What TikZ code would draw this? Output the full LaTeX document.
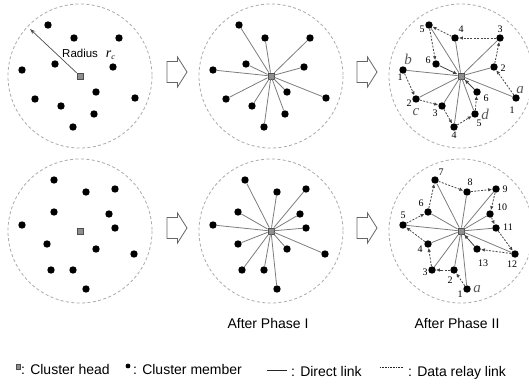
\documentclass[tikz,border=0pt]{standalone}
\usepackage{fontspec}
\setmainfont{Liberation Sans}
\newfontfamily\tnr{Liberation Serif}
\usetikzlibrary{arrows.meta}
\definecolor{rimgray}{HTML}{ABABAB}
\definecolor{spoke}{HTML}{7C7C7C}
\definecolor{relay}{HTML}{454545}
\definecolor{headfill}{HTML}{8E8E8E}
\definecolor{headdraw}{HTML}{4E4E4E}
\tikzset{every node/.style={font=\fontsize{14}{16}\selectfont},
 head/.style={rectangle,draw=headdraw,fill=headfill,line width=.6pt,inner sep=0pt,minimum size=6.2pt},
 member/.style={circle,fill=black,inner sep=0pt,minimum size=7.4pt},
 rim/.style={draw=rimgray,dash pattern=on 3pt off 2.4pt,line width=.8pt},
 direct/.style={draw=spoke,line width=.8pt},
 relaylink/.style={-{Latex[length=4pt,width=3.6pt]},draw=relay,dash pattern=on 2pt off 1.4pt,line width=.8pt},
 tohead/.style={-{Latex[length=4.6pt,width=3.8pt]},draw=black!75,line width=.8pt},
 radiusline/.style={-{Stealth[length=5.5pt,width=3.8pt]},draw=black!70,line width=.7pt},
 num/.style={font=\tnr\fontsize{10}{11}\selectfont,inner sep=0pt},
 tag/.style={font=\tnr\itshape\fontsize{15}{16}\selectfont,inner sep=0pt,text=black!65},
 legendtxt/.style={anchor=base west,inner sep=0pt},
 blockarrow/.style={draw=black!60,fill=white,line width=.8pt,line join=miter}}

\begin{document}
\begin{tikzpicture}[x=1pt,y=-1pt]

\path[use as bounding box] (0,0) rectangle (529,385);
\foreach \cx/\cy/\c in {80/76/1,271/76/2,461/76/3,80/231/4,271/231/5,461/231/6}{
 \draw[rim] (\cx,\cy) circle (72);
 \node[head] (h\c) at (\cx,\cy) {};
}
\foreach \cx/\c in {80/1,271/2,461/3}
 \foreach \dx/\dy/\n in {55/22/a1,33/-9/a2,39/-38/a3,-6/-38/a4,-32/-51/a5,-25/-12/a6,-58/-6/b1,-45/23/b2,-19/30/b3,-7/51/b4,14/38/b5,16/16/b6}
  \node[member] (m\c-\n) at (\cx+\dx,76+\dy) {};
\foreach \cx/\c in {80/4,271/5,461/6}
 \foreach \dx/\dy/\n in {6/58/1,-7/39/2,-29/39/3,-33/13/4,-58/-6/5,-33/-19/6,-26/-51/7,6/-39/8,35/-42/9,29/-17/10,35/-3/11,54/23/12,16/18/13}{
  \ifnum\c\n=46 \def\dx{-26}\fi
  \node[member] (m\c-\n) at (\cx+\dx,231+\dy) {};
 }

\coordinate (rtip) at (30,29);
\draw[radiusline] (h1) -- (rtip);
\node[anchor=base west,inner sep=0pt,font=\fontsize{11.5}{13}\selectfont] (rlabel) at (62,57.3)
 {Radius\hspace{8pt}{\tnr\itshape\fontsize{14}{14}\selectfont r\raisebox{-2.5pt}{\fontsize{8}{8}\selectfont c}}};

\foreach \ax/\ay in {177/72,367/72,177/228,367/228}
 \draw[blockarrow,shift={(\ax,\ay)}] (-10,-10.5)--(.5,-10.5)--(.5,-15)--(10,0)--(.5,15)--(.5,10.5)--(-10,10.5)--cycle;

\foreach \n in {a1,a2,a3,a4,a5,a6,b1,b2,b3,b4,b5,b6} \draw[direct] (h2) -- (m2-\n);
\foreach \n in {1,...,13} \draw[direct] (h5) -- (m5-\n);

\foreach \n in {a1,a2,a3,a4,a5,b1,b2,b3,b4,b5} \draw[direct] (h3) -- (m3-\n);
\foreach \s/\t in {a1/a2,a2/a3,a3/a4,a4/a5,a5/a6,b1/b2,b2/b3,b3/b4,b4/b5,b5/b6}
 \draw[relaylink] (m3-\s) -- (m3-\t);
\draw[tohead] (m3-a6) -- (h3);
\draw[tohead] (m3-b6) -- (h3);
\foreach \n in {1,...,12} \draw[direct] (h6) -- (m6-\n);
\foreach \s [evaluate=\s as \t using int(\s+1)] in {1,...,12}
 \draw[relaylink] (m6-\s) -- (m6-\t);
\draw[tohead] (m6-13) -- (h6);

\foreach \n/\t/\dx/\dy in {a1/1/-4/12,a2/2/9/1,a3/3/0/-9,a4/4/6/-9,a5/5/-7/4,a6/6/-8/-4,b1/1/-3/7,b2/2/-7/4,b3/3/-7/7,b4/4/0/8,b5/5/4/9,b6/6/9/6}
 \node[num] (l3-\n) at ([shift={(\dx,\dy)}]m3-\n) {\t};
\node[tag] (tag-a) at ([shift={(4,-8)}]m3-a1) {a};
\node[tag] (tag-b) at ([shift={(5,-11)}]m3-b1) {b};
\node[tag] (tag-c) at ([shift={(0,13)}]m3-b2) {c};
\node[tag] (tag-d) at ([shift={(10,0)}]m3-b5) {d};
\foreach \n/\dx/\dy in {1/-7/5,2/-4/10,3/-7/2,4/-8/5,5/0/-10,6/-7/-9,7/6/-8,8/3/-10,9/9/0,10/12/-7,11/12/-1,12/-3/10,13/6/14}
 \node[num] (l6-\n) at ([shift={(\dx,\dy)}]m6-\n) {\n};
\node[tag] (tag-a2) at ([shift={(10,0)}]m6-1) {a};

\node[anchor=base,inner sep=0pt] (ph1) at (268,328) {After Phase I};
\node[anchor=base,inner sep=0pt] (ph2) at (457,328) {After Phase II};

\node[head,minimum size=4.4pt,line width=.4pt] (lg-head) at (18,366.5) {};
\node[legendtxt] (lg-headtxt) at (21,374) {: Cluster head};
\node[member,minimum size=4.8pt] (lg-member) at (128,366) {};
\node[legendtxt] (lg-membertxt) at (133,374) {: Cluster member};
\draw[black!85,line width=1.3pt] (267,370.5) -- (287,370.5);
\node[legendtxt] (lg-directtxt) at (291,376) {: Direct link};
\draw[black!85,line width=1.2pt,dash pattern=on .8pt off .8pt] (380,367.5) -- (403,367.5);
\node[legendtxt] (lg-relaytxt) at (408,376) {: Data relay link};

\end{tikzpicture}
\end{document}
